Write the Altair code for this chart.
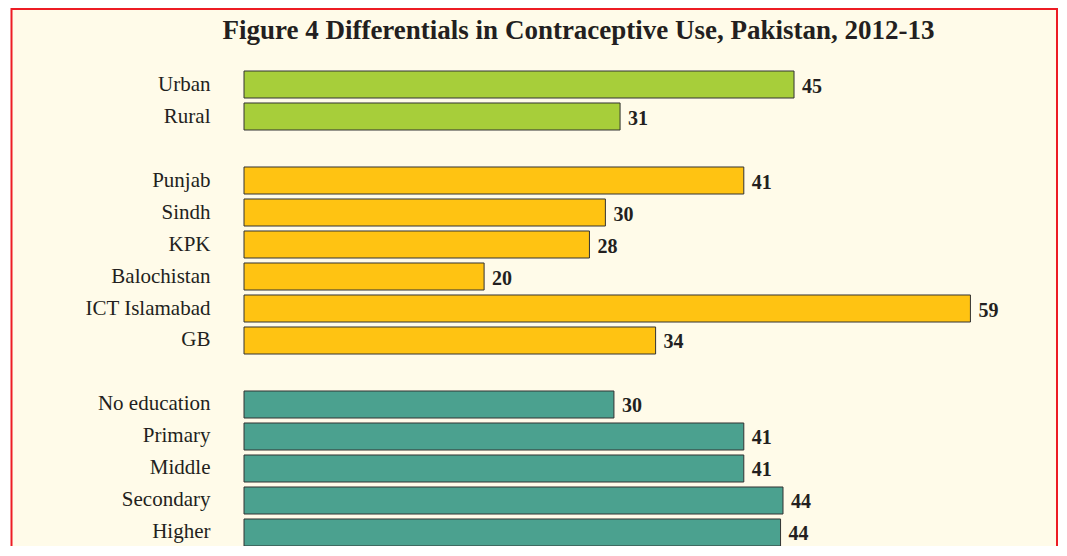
import altair as alt
import pandas as pd

categories = ["Urban", "Rural", "Punjab", "Sindh", "KPK", "Balochistan", "ICT Islamabad", "GB",
              "No education", "Primary", "Middle", "Secondary", "Higher"]
values = [44.9, 30.7, 40.8, 29.5, 28.2, 19.6, 59.3, 33.6, 30.2, 40.8, 40.8, 44.0, 43.8]
labels = ["45", "31", "41", "30", "28", "20", "59", "34", "30", "41", "41", "44", "44"]
groups = ["Residence"] * 2 + ["Region"] * 6 + ["Education"] * 5

group_names = ["Residence", "Region", "Education"]
group_colors = ["#A7CE3A", "#FFC312", "#4BA18F"]

row_order = ["Urban", "Rural", " ",
             "Punjab", "Sindh", "KPK", "Balochistan", "ICT Islamabad", "GB", "  ",
             "No education", "Primary", "Middle", "Secondary", "Higher"]

df = pd.DataFrame({"category": categories, "value": values, "label": labels, "group": groups})

W, H = 735, 475
SERIF = "Liberation Serif"

frame = alt.Chart(alt.Data(values=[{"f": 1}])).mark_rect(
    fill="#FFFBE9", stroke="#ED1C24", strokeWidth=2
).encode(
    x=alt.value(-232.5), x2=alt.value(813), y=alt.value(-62), y2=alt.value(520)
)

xenc = alt.X("value:Q", scale=alt.Scale(domain=[0, 60]), axis=None)
yenc = alt.Y("category:N", sort=row_order,
             scale=alt.Scale(domain=row_order, paddingInner=0.156, paddingOuter=0),
             axis=alt.Axis(title=None, domain=False, ticks=False, labelPadding=34,
                           labelFont=SERIF, labelFontSize=21, labelColor="#231F20",
                           labelBaseline="middle", zindex=2))

bars = alt.Chart(df).mark_bar(stroke="#333333", strokeWidth=1).encode(
    x=xenc,
    y=yenc,
    color=alt.Color("group:N", scale=alt.Scale(domain=group_names, range=group_colors), legend=None),
)

text = alt.Chart(df).mark_text(
    align="left", baseline="middle", dx=8, dy=2, font=SERIF, fontSize=20,
    fontWeight="bold", color="#231F20"
).encode(
    x=xenc,
    y=yenc,
    text="label:N",
)

chart = alt.layer(frame, bars, text).properties(
    width=W, height=H,
    title=alt.TitleParams(
        "Figure 4 Differentials in Contraceptive Use, Pakistan, 2012-13",
        font=SERIF, fontSize=27, fontWeight="bold", color="#231F20",
        anchor="middle", dx=-33, offset=0, dy=37, zindex=2
    ),
    autosize=alt.AutoSizeParams(type="none"),
    padding={"left": 236, "top": 63, "right": 80, "bottom": 0},
    background="white",
).configure_view(stroke=None)

chart.save("out.html", embed_options={"renderer": "svg", "actions": False})
